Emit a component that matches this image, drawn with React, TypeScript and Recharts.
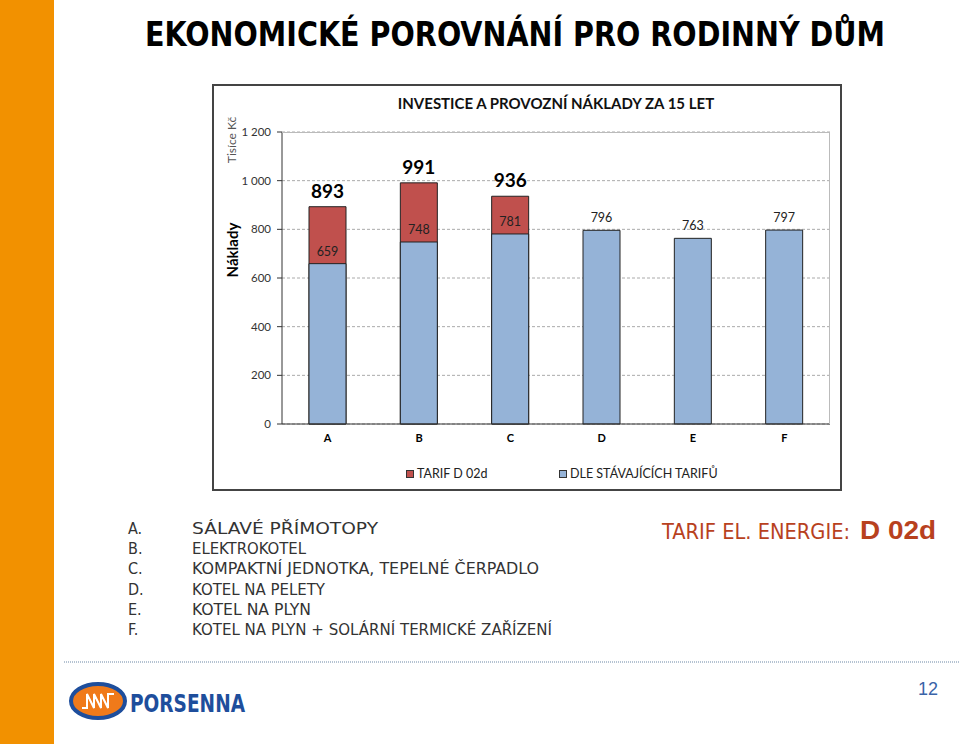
import { BarChart, Bar, XAxis, YAxis, CartesianGrid, LabelList } from "recharts";

const categories = ["A", "B", "C", "D", "E", "F"];
const tarifD02d = [893, 991, 936, null, null, null];
const stavajici = [659, 748, 781, 796, 763, 797];
const yTicks = [0, 200, 400, 600, 800, 1000, 1200];

const seriesNames = ["TARIF D 02d", "DLE STÁVAJÍCÍCH TARIFŮ"];
const seriesColors = ["#C0504D", "#95B3D7"];

const listLetters = ["A.", "B.", "C.", "D.", "E.", "F."];
const listItems = [
  "SÁLAVÉ PŘÍMOTOPY",
  "ELEKTROKOTEL",
  "KOMPAKTNÍ JEDNOTKA, TEPELNÉ ČERPADLO",
  "KOTEL NA PELETY",
  "KOTEL NA PLYN",
  "KOTEL NA PLYN + SOLÁRNÍ TERMICKÉ ZAŘÍZENÍ",
];
const listWidths = [186, 114, 347, 133, 119, 360];

const data = categories.map((c, i) => ({
  name: c,
  tarif: tarifD02d[i],
  stav: stavajici[i],
}));

const font = "Lato, 'DejaVu Sans', sans-serif";
const narrow = "'Liberation Sans Narrow', 'DejaVu Sans Condensed', sans-serif";

const fmtTick = (v: number) => (v >= 1000 ? `${Math.floor(v / 1000)} ${String(v % 1000).padStart(3, "0")}` : String(v));

export default function App() {
  return (
    <div style={{ position: "absolute", left: 0, top: 0, width: 960, height: 744, background: "#fff", overflow: "hidden" }}>
      <svg width={960} height={744} style={{ position: "absolute", left: 0, top: 0 }}>
        <rect x={0} y={0} width={54} height={744} fill="#F29100" />
        <text x={145} y={46} fontFamily={narrow} fontWeight="bold" fontSize={33} fill="#000" textLength={740} lengthAdjust="spacingAndGlyphs">
          EKONOMICKÉ POROVNÁNÍ PRO RODINNÝ DŮM
        </text>

        {/* axis titles */}
        <text transform="translate(236,140) rotate(-90)" textAnchor="middle" fontFamily={font} fontSize={12} fill="#555">Tisíce Kč</text>
        <text transform="translate(238,250) rotate(-90)" textAnchor="middle" fontFamily={font} fontWeight="bold" fontSize={15} fill="#000">Náklady</text>

        {/* list of heating types */}
        {listItems.map((t, i) => (
          <g key={t}>
            <text x={128} y={534 + i * 20.2} fontFamily={narrow} fontSize={16} fill="#333">{listLetters[i]}</text>
            <text x={192} y={534 + i * 20.2} fontFamily={narrow} fontSize={16} fill="#333" textLength={listWidths[i]} lengthAdjust="spacingAndGlyphs">{t}</text>
          </g>
        ))}
        <text x={662} y={539} fontFamily={narrow} fontSize={21} fill="#B8411E" textLength={188} lengthAdjust="spacingAndGlyphs">TARIF EL. ENERGIE:</text>
        <text x={860} y={539} fontFamily="'Liberation Sans', Arial, sans-serif" fontWeight="bold" fontSize={25} fill="#B8411E" textLength={76} lengthAdjust="spacingAndGlyphs">D 02d</text>

        {/* footer */}
        <line x1={64} y1={662} x2={960} y2={662} stroke="#9DB0C4" strokeWidth={1.5} strokeDasharray="1 1" />
        <ellipse cx={98} cy={701} rx={27} ry={17} fill="#F07A1A" stroke="#1E4E9C" strokeWidth={4} />
        <path d="M82 708 L87 708 L87 694 L94 708 L94 694 L101 708 L101 694 L108 708 L108 694 L114 694" fill="none" stroke="#fff" strokeWidth={2} />
        <text x={130} y={712} fontFamily={narrow} fontWeight="bold" fontSize={25} fill="#1E4E9C" textLength={115} lengthAdjust="spacingAndGlyphs">PORSENNA</text>
        <text x={938} y={695} textAnchor="end" fontFamily="'Liberation Sans', Arial, sans-serif" fontSize={18} fill="#3A64A8">12</text>
      </svg>

      <div style={{ position: "absolute", left: 212, top: 84, width: 630, height: 407, border: "2px solid #444", boxSizing: "border-box" }}>
        <div style={{ position: "absolute", left: 68, top: 8, width: 548, textAlign: "center", fontFamily: font, fontWeight: "bold", fontSize: 15, color: "#111" }}>
          INVESTICE A PROVOZNÍ NÁKLADY ZA 15 LET
        </div>
        <BarChart width={626} height={403} data={data} margin={{ top: 46, right: 10, left: 0, bottom: 35 }} barSize={37} barGap={-37}>
          <CartesianGrid vertical={false} stroke="#AAA" strokeDasharray="3 2" />
          <XAxis dataKey="name" tickLine={false} axisLine={{ stroke: "#333" }} tickMargin={4} height={30}
            tick={{ fontFamily: font, fontWeight: "bold", fontSize: 11, fill: "#000" }} />
          <YAxis width={68} domain={[0, 1200]} ticks={yTicks} tickFormatter={fmtTick} axisLine={{ stroke: "#333" }}
            tickLine={{ stroke: "#333" }} tickSize={5} tickMargin={6} tick={{ fontFamily: font, fontSize: 11.5, fill: "#333" }} />
          <Bar dataKey="tarif" fill={seriesColors[0]} stroke="#222" strokeWidth={1} isAnimationActive={false}>
            <LabelList dataKey="tarif" position="top" offset={9} formatter={(v: any) => (v == null ? "" : v)}
              style={{ fontFamily: font, fontWeight: "bold", fontSize: 19, fill: "#000" }} />
          </Bar>
          <Bar dataKey="stav" fill={seriesColors[1]} stroke="#222" strokeWidth={1} isAnimationActive={false}>
            <LabelList dataKey="stav" position="top" offset={8} style={{ fontFamily: font, fontSize: 12.5, fill: "#222" }} />
          </Bar>
        </BarChart>
        <div style={{ position: "absolute", left: 68, top: 46, width: 548, height: 292, borderTop: "1px solid #BBB", borderRight: "1px solid #BBB", boxSizing: "border-box", pointerEvents: "none" }} />
        {seriesNames.map((n, i) => (
          <div key={n} style={{ position: "absolute", left: i === 0 ? 192 : 345, top: 380, display: "flex", alignItems: "center", fontFamily: font, fontSize: 12.5, color: "#222" }}>
            <span style={{ display: "inline-block", width: 6, height: 6, background: seriesColors[i], border: "1px solid #333", marginRight: 3 }} />
            {n}
          </div>
        ))}
      </div>
    </div>
  );
}
